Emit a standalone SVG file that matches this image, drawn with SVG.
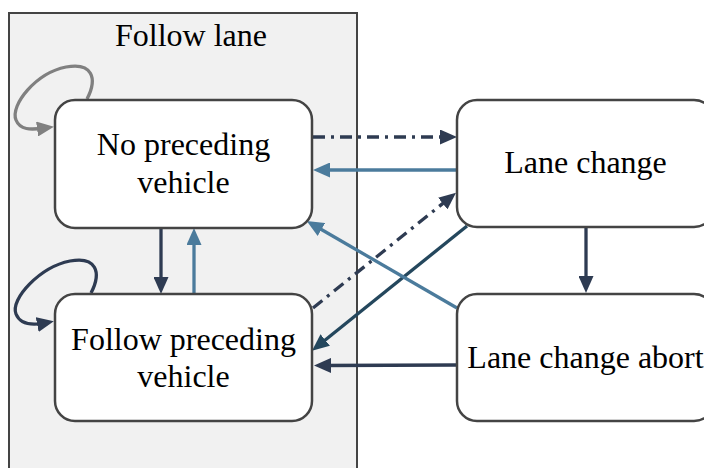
<svg xmlns="http://www.w3.org/2000/svg" width="704" height="468" viewBox="0 0 704 468">
<defs>
<style>
.node{fill:#ffffff;stroke:#444444;stroke-width:2.5}
.lbl{font-family:"Liberation Serif","Times New Roman",serif;font-size:32px;fill:#000000;text-anchor:middle}
.c{fill:none;stroke-width:3.3}
.dark{stroke:#2e3b52}
.blue{stroke:#4b7b9c}
.teal{stroke:#24475d}
.gray{stroke:#808080}
.dd{stroke-dasharray:12 6 3 6}
</style>
<marker id="aDark" markerUnits="userSpaceOnUse" markerWidth="17" markerHeight="15" refX="8" refY="7.5" orient="auto"><path d="M0,0 L17,7.5 L0,15 z" fill="#2e3b52"/></marker>
<marker id="aBlue" markerUnits="userSpaceOnUse" markerWidth="17" markerHeight="15" refX="8" refY="7.5" orient="auto"><path d="M0,0 L17,7.5 L0,15 z" fill="#4b7b9c"/></marker>
<marker id="aTeal" markerUnits="userSpaceOnUse" markerWidth="17" markerHeight="15" refX="8" refY="7.5" orient="auto"><path d="M0,0 L17,7.5 L0,15 z" fill="#24475d"/></marker>
<marker id="aGray" markerUnits="userSpaceOnUse" markerWidth="17" markerHeight="15" refX="8" refY="7.5" orient="auto"><path d="M0,0 L17,7.5 L0,15 z" fill="#808080"/></marker>
</defs>
<rect width="704" height="468" fill="#ffffff"/>
<g id="follow-lane">
<rect x="9" y="13" width="348" height="470" fill="#f1f1f1" stroke="#444444" stroke-width="2"/>
<text class="lbl" x="191" y="46">Follow lane</text>
</g>
<g id="connectors">
<path class="c gray" d="M87,99 C98,78 92,62 66,67 C36,73 10,105 16,120 C20,130 30,130 45,128" marker-end="url(#aGray)"/>
<path class="c dark" d="M91,293 C102,272 96,256 70,261 C40,267 10,299 16,314 C20,324 30,326 45,323" marker-end="url(#aDark)"/>
<path class="c dark dd" d="M313,137 L448,137" marker-end="url(#aDark)"/>
<path class="c blue" d="M457,170 L322,170" marker-end="url(#aBlue)"/>
<path class="c dark dd" d="M313,308 L449,198.5" marker-end="url(#aDark)"/>
<path class="c teal" d="M467,226 L319,345" marker-end="url(#aTeal)"/>
<path class="c blue" d="M457,308 L314.5,225.5" marker-end="url(#aBlue)"/>
<path class="c dark" d="M457,365 L323,365.5" marker-end="url(#aDark)"/>
<path class="c dark" d="M586,227 L586,284" marker-end="url(#aDark)"/>
<path class="c dark" d="M161,228 L161,285" marker-end="url(#aDark)"/>
<path class="c blue" d="M194,294 L194,237" marker-end="url(#aBlue)"/>
</g>
<g id="no-preceding-vehicle">
<rect class="node" x="55" y="100" width="257" height="128" rx="20"/>
<text class="lbl" x="183.5" y="155">No preceding</text>
<text class="lbl" x="183.5" y="193">vehicle</text>
</g>
<g id="follow-preceding-vehicle">
<rect class="node" x="55" y="294" width="257" height="127" rx="20"/>
<text class="lbl" x="183.5" y="350">Follow preceding</text>
<text class="lbl" x="183.5" y="387">vehicle</text>
</g>
<g id="lane-change">
<rect class="node" x="457" y="100" width="257" height="127" rx="20"/>
<text class="lbl" x="585.5" y="173">Lane change</text>
</g>
<g id="lane-change-abort">
<rect class="node" x="457" y="294" width="257" height="127" rx="20"/>
<text class="lbl" x="585.5" y="368">Lane change abort</text>
</g>
</svg>
